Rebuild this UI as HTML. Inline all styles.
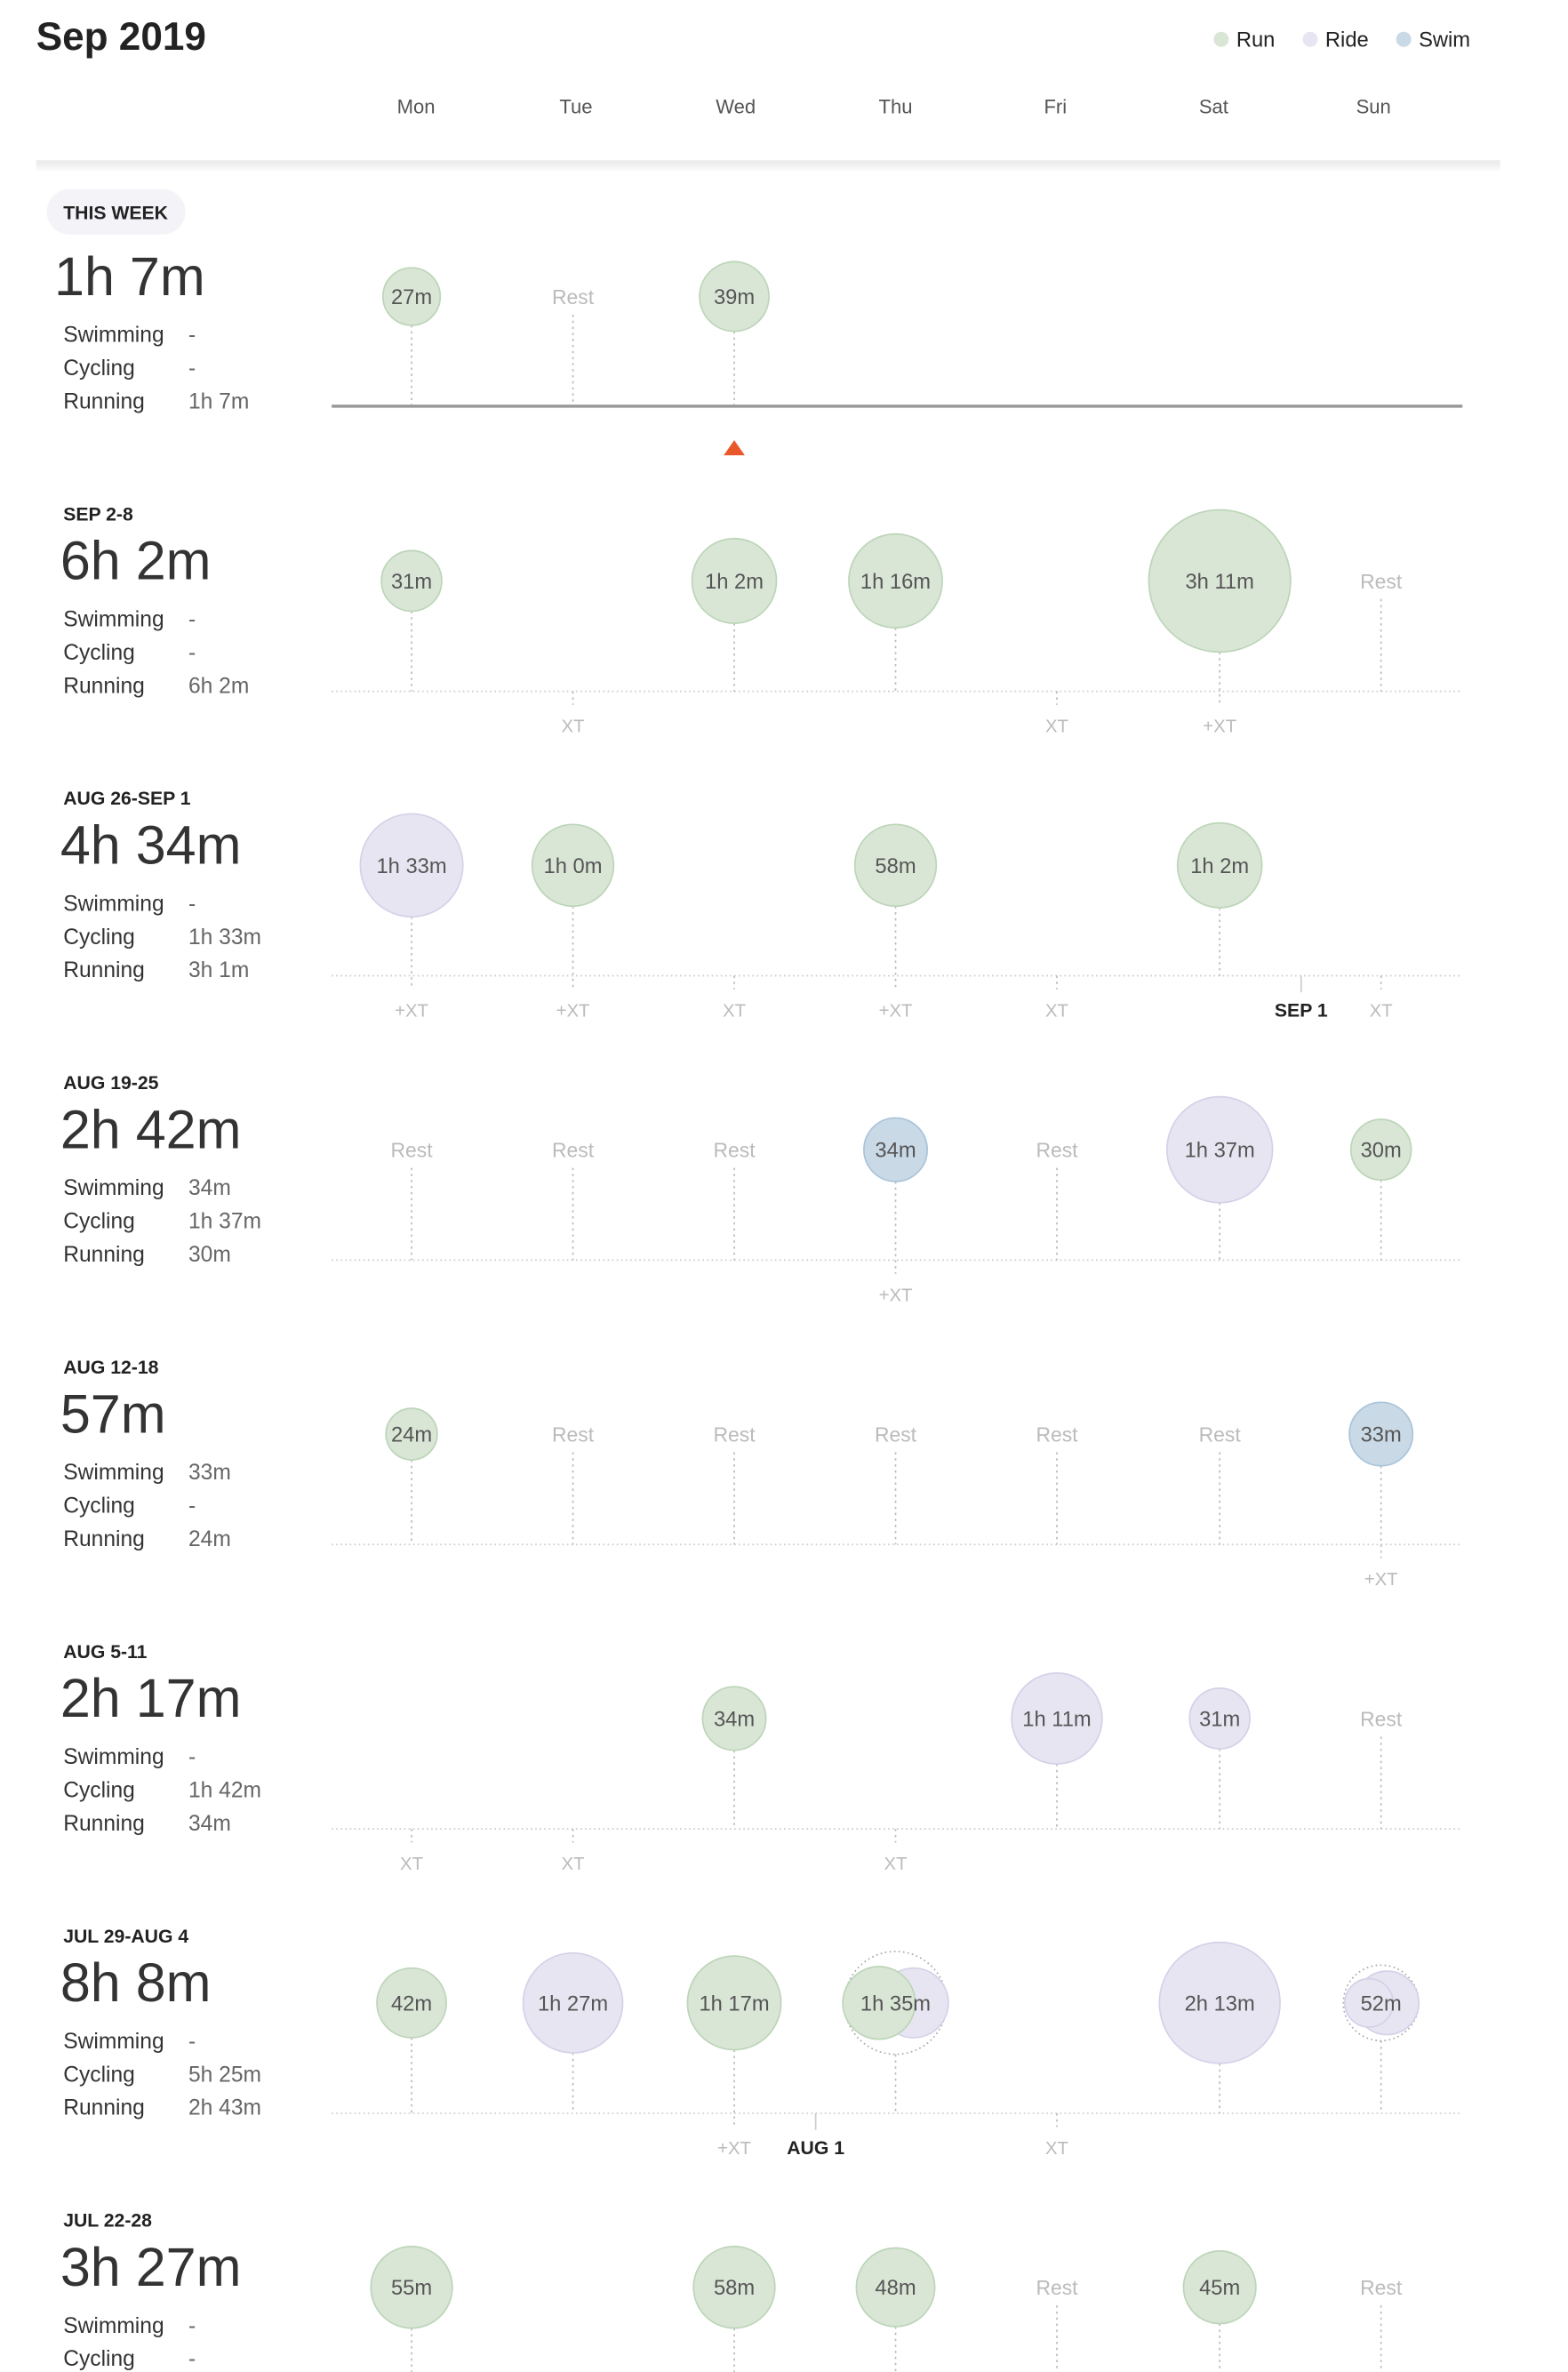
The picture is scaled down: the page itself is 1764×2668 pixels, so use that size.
<!DOCTYPE html>
<html><head><meta charset="utf-8"><style>
html,body{margin:0;padding:0;background:#fff;}
svg{display:block}
text{font-family:"Liberation Sans",sans-serif;}
.lbl{font-size:12.5px;font-weight:bold;fill:#222}
.tot{font-size:36px;fill:#333}
.st{font-size:14.5px;fill:#333}
.sv{font-size:14.5px;fill:#666}
.b{font-size:14px;fill:#555;text-anchor:middle}
.rest{font-size:13.5px;fill:#bbb;text-anchor:middle}
.xt{font-size:12px;fill:#bbb;text-anchor:middle}
.day{font-size:13px;fill:#555;text-anchor:middle}
.run{fill:#d9e6d6;stroke:#bcd5b8;stroke-width:1}
.ride{fill:#e8e5f2;stroke:#d6d0e8;stroke-width:1}
.swim{fill:#c9d9e6;stroke:#a9c4da;stroke-width:1}
.stem{stroke:#bbb;stroke-width:1;stroke-dasharray:1.5 2.5}
.base{stroke:#ccc;stroke-width:1;stroke-dasharray:1 2}
.dot{fill:none;stroke:#aaa;stroke-width:1;stroke-dasharray:1 2}
</style></head><body>
<svg width="1764" height="2668" viewBox="0 0 1040 1568" preserveAspectRatio="none" xmlns="http://www.w3.org/2000/svg">
<defs><linearGradient id="sh" x1="0" y1="0" x2="0" y2="1"><stop offset="0" stop-color="#e6e6e6"/><stop offset="1" stop-color="#fff"/></linearGradient></defs>
<text x="24" y="33" style="font-size:26px;font-weight:bold;fill:#222">Sep 2019</text>
<circle cx="810" cy="26" r="5" fill="#d9e6d6"/><text x="820" y="31" style="font-size:14px;fill:#222">Run</text>
<circle cx="869" cy="26" r="5" fill="#e8e5f2"/><text x="879" y="31" style="font-size:14px;fill:#222">Ride</text>
<circle cx="931" cy="26" r="5" fill="#c9d9e6"/><text x="941" y="31" style="font-size:14px;fill:#222">Swim</text>
<text class="day" x="276" y="75">Mon</text><text class="day" x="382" y="75">Tue</text><text class="day" x="488" y="75">Wed</text><text class="day" x="594" y="75">Thu</text><text class="day" x="700" y="75">Fri</text><text class="day" x="805" y="75">Sat</text><text class="day" x="911" y="75">Sun</text>
<rect x="24" y="106" width="971" height="8" fill="url(#sh)"/>
<rect x="24" y="106" width="971" height="2" fill="#ececec"/>

<!-- W0 -->
<rect x="31" y="125" width="92" height="30" rx="15" fill="#f4f4f8"/>
<text class="lbl" x="42" y="145">THIS WEEK</text>
<text class="tot" x="36" y="195">1h 7m</text>
<text class="st" x="42" y="226">Swimming</text><text class="sv" x="125" y="226">-</text>
<text class="st" x="42" y="248">Cycling</text><text class="sv" x="125" y="248">-</text>
<text class="st" x="42" y="270">Running</text><text class="sv" x="125" y="270">1h 7m</text>
<line class="stem" x1="273" y1="215" x2="273" y2="268"/><circle class="run" cx="273" cy="196" r="19"/><text class="b" x="273" y="201">27m</text>
<text class="rest" x="380" y="201">Rest</text><line class="stem" x1="380" y1="208" x2="380" y2="268"/>
<line class="stem" x1="487" y1="219" x2="487" y2="268"/><circle class="run" cx="487" cy="196" r="23"/><text class="b" x="487" y="201">39m</text>
<line x1="220" y1="268.5" x2="970" y2="268.5" stroke="#999" stroke-width="2"/>
<polygon points="487,291 494,301 480,301" fill="#e8582a"/>

<!-- W1 -->
<text class="lbl" x="42" y="344">SEP 2-8</text>
<text class="tot" x="40" y="383">6h 2m</text>
<text class="st" x="42" y="414">Swimming</text><text class="sv" x="125" y="414">-</text>
<text class="st" x="42" y="436">Cycling</text><text class="sv" x="125" y="436">-</text>
<text class="st" x="42" y="458">Running</text><text class="sv" x="125" y="458">6h 2m</text>
<line class="base" x1="220" y1="457" x2="970" y2="457"/>
<line class="stem" x1="273" y1="404" x2="273" y2="457"/><circle class="run" cx="273" cy="384" r="20"/><text class="b" x="273" y="389">31m</text>
<line class="stem" x1="487" y1="412" x2="487" y2="457"/><circle class="run" cx="487" cy="384" r="28"/><text class="b" x="487" y="389">1h 2m</text>
<line class="stem" x1="594" y1="415" x2="594" y2="457"/><circle class="run" cx="594" cy="384" r="31"/><text class="b" x="594" y="389">1h 16m</text>
<line class="stem" x1="809" y1="431" x2="809" y2="465"/><circle class="run" cx="809" cy="384" r="47"/><text class="b" x="809" y="389">3h 11m</text>
<text class="rest" x="916" y="389">Rest</text><line class="stem" x1="916" y1="396" x2="916" y2="457"/>
<line class="stem" x1="380" y1="457" x2="380" y2="466"/><text class="xt" x="380" y="484">XT</text>
<line class="stem" x1="701" y1="457" x2="701" y2="466"/><text class="xt" x="701" y="484">XT</text>
<text class="xt" x="809" y="484">+XT</text>

<!-- W2 -->
<text class="lbl" x="42" y="532">AUG 26-SEP 1</text>
<text class="tot" x="40" y="571">4h 34m</text>
<text class="st" x="42" y="602">Swimming</text><text class="sv" x="125" y="602">-</text>
<text class="st" x="42" y="624">Cycling</text><text class="sv" x="125" y="624">1h 33m</text>
<text class="st" x="42" y="646">Running</text><text class="sv" x="125" y="646">3h 1m</text>
<line class="base" x1="220" y1="645" x2="970" y2="645"/>
<line class="stem" x1="273" y1="606" x2="273" y2="654"/><circle class="ride" cx="273" cy="572" r="34"/><text class="b" x="273" y="577">1h 33m</text>
<line class="stem" x1="380" y1="599" x2="380" y2="654"/><circle class="run" cx="380" cy="572" r="27"/><text class="b" x="380" y="577">1h 0m</text>
<line class="stem" x1="594" y1="599" x2="594" y2="654"/><circle class="run" cx="594" cy="572" r="27"/><text class="b" x="594" y="577">58m</text>
<line class="stem" x1="809" y1="600" x2="809" y2="645"/><circle class="run" cx="809" cy="572" r="28"/><text class="b" x="809" y="577">1h 2m</text>
<line class="stem" x1="487" y1="645" x2="487" y2="654"/><line class="stem" x1="701" y1="645" x2="701" y2="654"/><line class="stem" x1="916" y1="645" x2="916" y2="654"/>
<text class="xt" x="273" y="672">+XT</text><text class="xt" x="380" y="672">+XT</text><text class="xt" x="487" y="672">XT</text><text class="xt" x="594" y="672">+XT</text><text class="xt" x="701" y="672">XT</text><text class="xt" x="916" y="672">XT</text>
<line x1="863" y1="645" x2="863" y2="656" stroke="#ccc"/><text class="lbl" x="863" y="672" text-anchor="middle">SEP 1</text>

<!-- W3 -->
<text class="lbl" x="42" y="720">AUG 19-25</text>
<text class="tot" x="40" y="759">2h 42m</text>
<text class="st" x="42" y="790">Swimming</text><text class="sv" x="125" y="790">34m</text>
<text class="st" x="42" y="812">Cycling</text><text class="sv" x="125" y="812">1h 37m</text>
<text class="st" x="42" y="834">Running</text><text class="sv" x="125" y="834">30m</text>
<line class="base" x1="220" y1="833" x2="970" y2="833"/>
<text class="rest" x="273" y="765">Rest</text><line class="stem" x1="273" y1="772" x2="273" y2="833"/>
<text class="rest" x="380" y="765">Rest</text><line class="stem" x1="380" y1="772" x2="380" y2="833"/>
<text class="rest" x="487" y="765">Rest</text><line class="stem" x1="487" y1="772" x2="487" y2="833"/>
<line class="stem" x1="594" y1="781" x2="594" y2="842"/><circle class="swim" cx="594" cy="760" r="21"/><text class="b" x="594" y="765">34m</text>
<text class="rest" x="701" y="765">Rest</text><line class="stem" x1="701" y1="772" x2="701" y2="833"/>
<line class="stem" x1="809" y1="795" x2="809" y2="833"/><circle class="ride" cx="809" cy="760" r="35"/><text class="b" x="809" y="765">1h 37m</text>
<line class="stem" x1="916" y1="780" x2="916" y2="833"/><circle class="run" cx="916" cy="760" r="20"/><text class="b" x="916" y="765">30m</text>
<text class="xt" x="594" y="860">+XT</text>

<!-- W4 -->
<text class="lbl" x="42" y="908">AUG 12-18</text>
<text class="tot" x="40" y="947">57m</text>
<text class="st" x="42" y="978">Swimming</text><text class="sv" x="125" y="978">33m</text>
<text class="st" x="42" y="1000">Cycling</text><text class="sv" x="125" y="1000">-</text>
<text class="st" x="42" y="1022">Running</text><text class="sv" x="125" y="1022">24m</text>
<line class="base" x1="220" y1="1021" x2="970" y2="1021"/>
<line class="stem" x1="273" y1="965" x2="273" y2="1021"/><circle class="run" cx="273" cy="948" r="17"/><text class="b" x="273" y="953">24m</text>
<text class="rest" x="380" y="953">Rest</text><line class="stem" x1="380" y1="960" x2="380" y2="1021"/>
<text class="rest" x="487" y="953">Rest</text><line class="stem" x1="487" y1="960" x2="487" y2="1021"/>
<text class="rest" x="594" y="953">Rest</text><line class="stem" x1="594" y1="960" x2="594" y2="1021"/>
<text class="rest" x="701" y="953">Rest</text><line class="stem" x1="701" y1="960" x2="701" y2="1021"/>
<text class="rest" x="809" y="953">Rest</text><line class="stem" x1="809" y1="960" x2="809" y2="1021"/>
<line class="stem" x1="916" y1="969" x2="916" y2="1030"/><circle class="swim" cx="916" cy="948" r="21"/><text class="b" x="916" y="953">33m</text>
<text class="xt" x="916" y="1048">+XT</text>

<!-- W5 -->
<text class="lbl" x="42" y="1096">AUG 5-11</text>
<text class="tot" x="40" y="1135">2h 17m</text>
<text class="st" x="42" y="1166">Swimming</text><text class="sv" x="125" y="1166">-</text>
<text class="st" x="42" y="1188">Cycling</text><text class="sv" x="125" y="1188">1h 42m</text>
<text class="st" x="42" y="1210">Running</text><text class="sv" x="125" y="1210">34m</text>
<line class="base" x1="220" y1="1209" x2="970" y2="1209"/>
<line class="stem" x1="487" y1="1157" x2="487" y2="1209"/><circle class="run" cx="487" cy="1136" r="21"/><text class="b" x="487" y="1141">34m</text>
<line class="stem" x1="701" y1="1166" x2="701" y2="1209"/><circle class="ride" cx="701" cy="1136" r="30"/><text class="b" x="701" y="1141">1h 11m</text>
<line class="stem" x1="809" y1="1156" x2="809" y2="1209"/><circle class="ride" cx="809" cy="1136" r="20"/><text class="b" x="809" y="1141">31m</text>
<text class="rest" x="916" y="1141">Rest</text><line class="stem" x1="916" y1="1148" x2="916" y2="1209"/>
<line class="stem" x1="273" y1="1209" x2="273" y2="1218"/><line class="stem" x1="380" y1="1209" x2="380" y2="1218"/><line class="stem" x1="594" y1="1209" x2="594" y2="1218"/>
<text class="xt" x="273" y="1236">XT</text><text class="xt" x="380" y="1236">XT</text><text class="xt" x="594" y="1236">XT</text>

<!-- W6 -->
<text class="lbl" x="42" y="1284">JUL 29-AUG 4</text>
<text class="tot" x="40" y="1323">8h 8m</text>
<text class="st" x="42" y="1354">Swimming</text><text class="sv" x="125" y="1354">-</text>
<text class="st" x="42" y="1376">Cycling</text><text class="sv" x="125" y="1376">5h 25m</text>
<text class="st" x="42" y="1398">Running</text><text class="sv" x="125" y="1398">2h 43m</text>
<line class="base" x1="220" y1="1397" x2="970" y2="1397"/>
<line class="stem" x1="273" y1="1347" x2="273" y2="1397"/><circle class="run" cx="273" cy="1324" r="23"/><text class="b" x="273" y="1329">42m</text>
<line class="stem" x1="380" y1="1357" x2="380" y2="1397"/><circle class="ride" cx="380" cy="1324" r="33"/><text class="b" x="380" y="1329">1h 27m</text>
<line class="stem" x1="487" y1="1355" x2="487" y2="1406"/><circle class="run" cx="487" cy="1324" r="31"/><text class="b" x="487" y="1329">1h 17m</text>
<line class="stem" x1="594" y1="1358" x2="594" y2="1397"/>
<circle class="dot" cx="594" cy="1324" r="34"/>
<circle class="ride" cx="606" cy="1324" r="23"/><circle class="run" cx="583" cy="1324" r="24"/>
<text class="b" x="594" y="1329">1h 35m</text>
<line class="stem" x1="809" y1="1364" x2="809" y2="1397"/><circle class="ride" cx="809" cy="1324" r="40"/><text class="b" x="809" y="1329">2h 13m</text>
<line class="stem" x1="916" y1="1349" x2="916" y2="1397"/>
<circle class="dot" cx="916" cy="1324" r="25"/>
<circle class="ride" cx="920" cy="1324" r="21"/><circle class="ride" cx="908" cy="1324" r="16"/>
<text class="b" x="916" y="1329">52m</text>
<line class="stem" x1="701" y1="1397" x2="701" y2="1406"/>
<text class="xt" x="487" y="1424">+XT</text><text class="xt" x="701" y="1424">XT</text>
<line x1="541" y1="1397" x2="541" y2="1408" stroke="#ccc"/><text class="lbl" x="541" y="1424" text-anchor="middle">AUG 1</text>

<!-- W7 -->
<text class="lbl" x="42" y="1472">JUL 22-28</text>
<text class="tot" x="40" y="1511">3h 27m</text>
<text class="st" x="42" y="1542">Swimming</text><text class="sv" x="125" y="1542">-</text>
<text class="st" x="42" y="1564">Cycling</text><text class="sv" x="125" y="1564">-</text>
<line class="stem" x1="273" y1="1539" x2="273" y2="1568"/><circle class="run" cx="273" cy="1512" r="27"/><text class="b" x="273" y="1517">55m</text>
<line class="stem" x1="487" y1="1539" x2="487" y2="1568"/><circle class="run" cx="487" cy="1512" r="27"/><text class="b" x="487" y="1517">58m</text>
<line class="stem" x1="594" y1="1538" x2="594" y2="1568"/><circle class="run" cx="594" cy="1512" r="26"/><text class="b" x="594" y="1517">48m</text>
<text class="rest" x="701" y="1517">Rest</text><line class="stem" x1="701" y1="1524" x2="701" y2="1568"/>
<line class="stem" x1="809" y1="1536" x2="809" y2="1568"/><circle class="run" cx="809" cy="1512" r="24"/><text class="b" x="809" y="1517">45m</text>
<text class="rest" x="916" y="1517">Rest</text><line class="stem" x1="916" y1="1524" x2="916" y2="1568"/>
</svg>
</body></html>
